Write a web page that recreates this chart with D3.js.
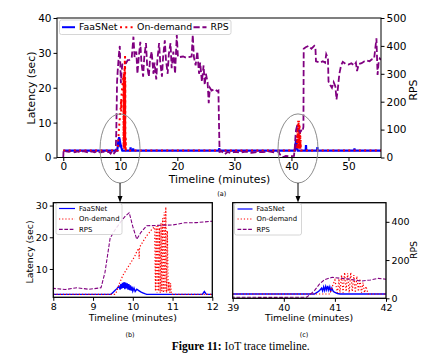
<!DOCTYPE html>
<html>
<head>
<meta charset="utf-8">
<script src="https://cdn.jsdelivr.net/npm/d3@7"></script>
<style>
body { margin: 0; background: #fff; }
text { font-family: "DejaVu Sans", sans-serif; }
</style>
</head>
<body>
<div id="chart"></div>
<script>
// FaaSNet latency (sec) over time (minutes)
const faasT = [0, 9.45, 9.5, 9.55, 9.6, 9.65, 9.68, 9.7, 9.72, 9.74, 9.76, 9.78, 9.8, 9.82, 9.84, 9.86, 9.88, 9.9, 9.92, 9.94, 9.96, 9.98, 10.0, 10.03, 10.06, 10.1, 10.15, 10.2, 10.25, 10.3, 10.35,
    11.75, 11.8, 11.85, 12.2, 12.25, 12.3, 27.3, 27.35, 27.4,
    40.6, 40.65, 40.7, 40.74, 40.76, 40.78, 40.8, 40.82, 40.84, 40.86, 40.88, 40.9, 40.92, 40.94, 40.97, 41.0, 41.05, 41.1,
    42.5, 42.55, 42.6, 44.5, 44.55, 44.6, 51, 51.05, 51.1, 55.7]
const faasL = [2, 2, 2.6, 3.2, 3.8, 4.6, 3.5, 5.2, 3.8, 5.6, 4.0, 5.9, 3.6, 5.7, 3.9, 5.5, 3.5, 5.2, 3.3, 4.8, 3.2, 4.4, 3.0, 4.0, 2.9, 3.6, 3.2, 2.8, 2.5, 2.2, 2,
    2, 2.9, 2, 2, 2.6, 2, 2, 2.7, 2,
    2, 2.6, 3.4, 4.3, 3.2, 4.8, 3.4, 5.0, 3.6, 5.2, 3.5, 4.8, 3.2, 4.3, 3.0, 2.6, 2.2, 2,
    2, 3.6, 2, 2, 3.0, 2, 2, 2.6, 2, 2]

// On-demand latency (sec)
const odT = [0, 9.55, 9.6, 9.65, 9.7, 9.75, 9.8, 9.85, 9.9, 9.95, 10.0, 10.05, 10.1, 10.15, 10.16, 10.17, 10.2, 10.25, 10.3, 10.35, 10.4, 10.45, 10.5, 10.55,
    10.57, 10.59, 10.61, 10.63, 10.65, 10.67, 10.69, 10.71, 10.73, 10.75, 10.77, 10.79, 10.81, 10.83, 10.85, 10.87, 10.89, 10.91, 10.93, 10.95, 10.97,
    40.9, 40.95, 41.0, 41.05, 41.08, 41.1, 41.13, 41.16, 41.19, 41.22, 41.25, 41.28, 41.31, 41.34, 41.37, 41.4, 41.43, 41.46, 41.49, 41.52, 41.55, 41.58, 41.61, 41.65, 55.7]
const odL = [2, 2, 3.0, 5.0, 6.5, 8.0, 9.0, 10.0, 11.0, 12.0, 13.0, 14.0, 15.5, 16.5, 13.2, 16.8, 17.5, 18.5, 19.5, 20.5, 21.2, 22.0, 22.8, 23.2,
    3.0, 23.5, 2.5, 24.0, 3.0, 23.0, 2.5, 24.5, 3.0, 26.0, 2.5, 28.0, 3.0, 29.5, 2.5, 22.0, 3.0, 6.0, 2.5, 5.5, 2,
    2, 5.0, 7.5, 2.5, 8.0, 2.5, 9.5, 2.5, 10.5, 3.0, 10.2, 2.5, 10.5, 3.0, 9.5, 2.5, 9.0, 3.0, 8.0, 2.5, 6.5, 2.5, 5.0, 2, 2]

// RPS
const rpsT = [0, 0.05, 0.5, 1, 1.5, 2, 2.5, 3, 3.5, 4, 4.5, 5, 5.5, 6, 6.5, 7, 7.5, 8, 8.3, 8.6, 8.9, 9.2, 9.3, 9.43, 9.55, 9.7, 9.8, 9.91, 10.0, 10.1, 10.2, 10.35, 10.6, 11.0, 11.3, 11.6, 12.0,
    12.3, 12.5, 12.8, 13.0, 13.2, 13.5, 13.7, 14.0, 14.2, 14.5, 14.7, 15.0, 15.2, 15.5, 15.8, 16.0, 16.3, 16.5, 16.8, 17.0, 17.3, 17.5, 17.8, 18.0, 18.3, 18.5, 18.8, 19.0, 19.3, 19.6, 19.9,
    20.1, 20.4, 21.0, 21.5, 22.0, 22.5, 22.7, 22.9, 23.2, 23.5, 23.8, 24.0, 24.3, 24.6, 24.8, 25.0, 25.3, 25.5, 25.7, 26.0, 26.5, 27.0, 27.2, 27.3, 27.4,
    27.8, 28.3, 28.8, 29.3, 30, 31, 32, 33, 34, 35, 36, 37, 37.7, 38.2, 38.6, 39.0, 39.5, 40.0, 40.45, 40.6, 40.7, 40.8, 40.95, 41.1, 41.3, 41.5, 41.7, 41.85, 42.0, 42.1,
    42.15, 42.5, 43.0, 43.5, 44.0, 44.2, 44.3, 45.0, 45.5, 45.9, 46.1, 46.4, 46.5, 46.8, 47.1, 47.4, 47.7, 47.9, 48.1, 48.4, 48.7, 49.0, 49.5, 50.0, 50.5, 51.0, 51.3, 51.5,
    51.8, 52.3, 52.8, 53.2, 53.7, 54.1, 54.5, 54.9, 55.1, 55.3, 55.5, 55.7]
const rpsV = [0, 25, 22, 20, 24, 19, 22, 18, 23, 20, 17, 22, 19, 23, 18, 21, 19, 20, 14, 23, 15, 23, 100, 272, 313, 355, 380, 400, 330, 266, 300, 334, 336, 338, 349, 350, 357,
    433, 360, 380, 300, 350, 415, 340, 290, 360, 410, 330, 290, 350, 380, 300, 340, 280, 350, 410, 340, 290, 360, 420, 350, 300, 370, 410, 320, 380, 300, 440,
    360, 360, 362, 358, 360, 362, 440, 360, 330, 380, 300, 340, 272, 330, 260, 300, 270, 195, 250, 240, 245, 238, 240, 120, 20,
    22, 12, 20, 16, 20, 18, 21, 17, 20, 19, 22, 18, 22, 3, 2, 6, 5, 5, 6, 40, 75, 98, 110, 105, 100, 90, 96, 104, 100, 110,
    390, 395, 400, 390, 400, 395, 345, 340, 345, 340, 370, 355, 272, 260, 250, 270, 255, 208, 240, 300, 330, 343, 335, 333, 338, 330, 340, 310,
    335, 338, 345, 348, 345, 352, 355, 427, 296, 345, 355, 350]

const seriesNames = ["FaaSNet", "On-demand", "RPS"]
const colors = { FaaSNet: "#0000ff", "On-demand": "#ff0000", RPS: "#800080" }

const width = 423
const height = 354

const svg = d3.select("#chart").append("svg")
    .attr("width", width)
    .attr("height", height)
    .style("background", "#fff")

const faas = faasT.map((t, i) => [t, faasL[i]])
const od = odT.map((t, i) => [t, odL[i]])
const rps = rpsT.map((t, i) => [t, rpsV[i]])

function panel(o) {
    const g = svg.append("g")
    const x = d3.scaleLinear().domain(o.xDomain).range([o.left, o.right])
    const yL = d3.scaleLinear().domain(o.yDomain).range([o.bottom, o.top])
    const yR = d3.scaleLinear().domain(o.rDomain).range([o.bottom, o.top])

    g.append("clipPath").attr("id", o.id + "clip")
        .append("rect").attr("x", o.left).attr("y", o.top)
        .attr("width", o.right - o.left).attr("height", o.bottom - o.top)

    const plot = g.append("g").attr("clip-path", `url(#${o.id}clip)`)
    const lineL = d3.line().x(d => x(d[0])).y(d => yL(d[1]))
    const lineR = d3.line().x(d => x(d[0])).y(d => yR(d[1]))

    plot.append("path").attr("d", lineL(faas))
        .attr("fill", "none").attr("stroke", colors.FaaSNet).attr("stroke-width", o.lw + 0.2)
    plot.append("path").attr("d", lineL(od))
        .attr("fill", "none").attr("stroke", colors["On-demand"]).attr("stroke-width", o.lw)
        .attr("stroke-dasharray", `${o.lw} ${o.lw * 1.65}`)
    plot.append("path").attr("d", lineR(rps))
        .attr("fill", "none").attr("stroke", colors.RPS).attr("stroke-width", o.lw * 0.9)
        .attr("stroke-dasharray", `${o.lw * 3.1} ${o.lw * 1.35}`)

    // frame
    g.append("rect").attr("x", o.left).attr("y", o.top)
        .attr("width", o.right - o.left).attr("height", o.bottom - o.top)
        .attr("fill", "none").attr("stroke", "#000").attr("stroke-width", o.frame)

    const xAxis = d3.axisBottom(x).tickValues(o.xTicks).tickSize(3.5).tickPadding(2).tickFormat(d3.format("d"))
    const xg = g.append("g").attr("transform", `translate(0,${o.bottom})`).call(xAxis)
    xg.select(".domain").remove()
    xg.selectAll("text").attr("font-size", o.fs).attr("fill", "#000").style("font-family", "DejaVu Sans")

    if (o.leftTicks) {
        const ag = g.append("g").attr("transform", `translate(${o.left},0)`)
            .call(d3.axisLeft(yL).tickValues(o.leftTicks).tickSize(3.5).tickPadding(2))
        ag.select(".domain").remove()
        ag.selectAll("text").attr("font-size", o.fs).attr("fill", "#000").style("font-family", "DejaVu Sans")
    }
    if (o.rightTicks) {
        const ag = g.append("g").attr("transform", `translate(${o.right},0)`)
            .call(d3.axisRight(yR).tickValues(o.rightTicks).tickSize(3.5).tickPadding(2))
        ag.select(".domain").remove()
        ag.selectAll("text").attr("font-size", o.fs).attr("fill", "#000").style("font-family", "DejaVu Sans")
    }
    return { g, x, yL, yR }
}

function legend(g, o) {
    const box = g.append("rect").attr("x", o.x).attr("y", o.y)
        .attr("width", o.w).attr("height", o.h).attr("rx", 2)
        .attr("fill", "#fff").attr("fill-opacity", 0.85)
        .attr("stroke", "#ccc").attr("stroke-width", 0.8)
    seriesNames.forEach((name, i) => {
        const p = o.pos[i]
        const ln = g.append("line").attr("x1", p[0]).attr("x2", p[0] + o.len)
            .attr("y1", p[1]).attr("y2", p[1])
            .attr("stroke", colors[name]).attr("stroke-width", o.lw)
        if (name === "On-demand") ln.attr("stroke-dasharray", `${o.lw} ${o.lw * 1.65}`)
        if (name === "RPS") ln.attr("stroke-dasharray", `${o.lw * 3.1} ${o.lw * 1.35}`)
        g.append("text").attr("x", p[0] + o.len + o.gap).attr("y", p[1])
            .attr("dy", "0.35em").attr("font-size", o.fs).text(name)
    })
}

// (a) full timeline
const a = panel({
    id: "a", xDomain: [-1.1, 55.7], yDomain: [0, 40], rDomain: [0, 500],
    left: 57, right: 381, top: 18, bottom: 157.5,
    xTicks: [0, 10, 20, 30, 40, 50], leftTicks: [0, 10, 20, 30, 40], rightTicks: [0, 100, 200, 300, 400, 500],
    fs: 10.5, lw: 2, frame: 1
})
legend(a.g, {
    x: 59.5, y: 20, w: 171.5, h: 14.5, lw: 2, len: 13, gap: 4, fs: 9.4,
    pos: [[62, 27.2], [120, 27.2], [193.5, 27.2]]
})
a.g.append("text").attr("x", 219.5).attr("y", 183).attr("text-anchor", "middle")
    .attr("font-size", 10.8).text("Timeline (minutes)")
a.g.append("text").attr("transform", "translate(35,88) rotate(-90)").attr("text-anchor", "middle")
    .attr("font-size", 10.8).text("Latency (sec)")
a.g.append("text").attr("transform", "translate(417,90) rotate(-90)").attr("text-anchor", "middle")
    .attr("font-size", 10.8).text("RPS")
a.g.append("text").attr("x", 221.7).attr("y", 195.5).attr("text-anchor", "middle")
    .attr("font-size", 6.5).text("(a)")

// zoom ellipses and arrows
const zooms = [9.95, 41.15]
zooms.forEach(t => {
    const cx = a.x(t)
    a.g.append("ellipse").attr("cx", cx).attr("cy", a.yL(2.6))
        .attr("rx", a.x(t + 3.5) - cx).attr("ry", a.yL(0) - a.yL(9.9))
        .attr("fill", "none").attr("stroke", "#8c8c8c").attr("stroke-width", 1)
    a.g.append("line").attr("x1", cx).attr("x2", cx).attr("y1", 183).attr("y2", 197)
        .attr("stroke", "#000").attr("stroke-width", 1)
    a.g.append("path").attr("d", `M${cx - 2.5},196 L${cx + 2.5},196 L${cx},202.5 Z`).attr("fill", "#000")
})

// (b) zoom 8-12 min
const b = panel({
    id: "b", xDomain: [8, 12], yDomain: [1.07, 30.9], rDomain: [-25, 450],
    left: 53.3, right: 212.3, top: 202.7, bottom: 297.3,
    xTicks: [8, 9, 10, 11, 12], leftTicks: [10, 20, 30], rightTicks: null,
    fs: 9.5, lw: 1.2, frame: 1.3
})
legend(b.g, {
    x: 56, y: 203.5, w: 66, h: 31, lw: 1.2, len: 16, gap: 4, fs: 6.9,
    pos: [[59, 208.5], [59, 219], [59, 229.3]]
})
b.g.append("text").attr("x", 132.8).attr("y", 320.5).attr("text-anchor", "middle")
    .attr("font-size", 9.4).text("Timeline (minutes)")
b.g.append("text").attr("transform", "translate(33,252) rotate(-90)").attr("text-anchor", "middle")
    .attr("font-size", 9.4).text("Latency (sec)")
b.g.append("text").attr("x", 130).attr("y", 336.5).attr("text-anchor", "middle")
    .attr("font-size", 6.5).text("(b)")

// (c) zoom 39-42 min
const c = panel({
    id: "c", xDomain: [39, 42], yDomain: [0.3, 38], rDomain: [0, 500],
    left: 232.7, right: 386, top: 202.7, bottom: 298.3,
    xTicks: [39, 40, 41, 42], leftTicks: null, rightTicks: [0, 200, 400],
    fs: 9.5, lw: 1.2, frame: 1.3
})
legend(c.g, {
    x: 234.5, y: 203.5, w: 67, h: 31.5, lw: 1.2, len: 15, gap: 4, fs: 6.9,
    pos: [[237.5, 209], [237.5, 219], [237.5, 229.3]]
})
c.g.append("text").attr("x", 309).attr("y", 320.5).attr("text-anchor", "middle")
    .attr("font-size", 9.4).text("Timeline (minutes)")
c.g.append("text").attr("transform", "translate(417,250) rotate(-90)").attr("text-anchor", "middle")
    .attr("font-size", 9.4).text("RPS")
c.g.append("text").attr("x", 304).attr("y", 336.5).attr("text-anchor", "middle")
    .attr("font-size", 6.5).text("(c)")

// caption
const cap = svg.append("text").attr("x", 240.7).attr("y", 350).attr("text-anchor", "middle")
    .style("font-family", "'Liberation Serif', serif").attr("font-size", 11.5)
cap.append("tspan").attr("font-weight", "bold").text("Figure 11:")
cap.append("tspan").text(" IoT trace timeline.")
</script>
</body>
</html>
